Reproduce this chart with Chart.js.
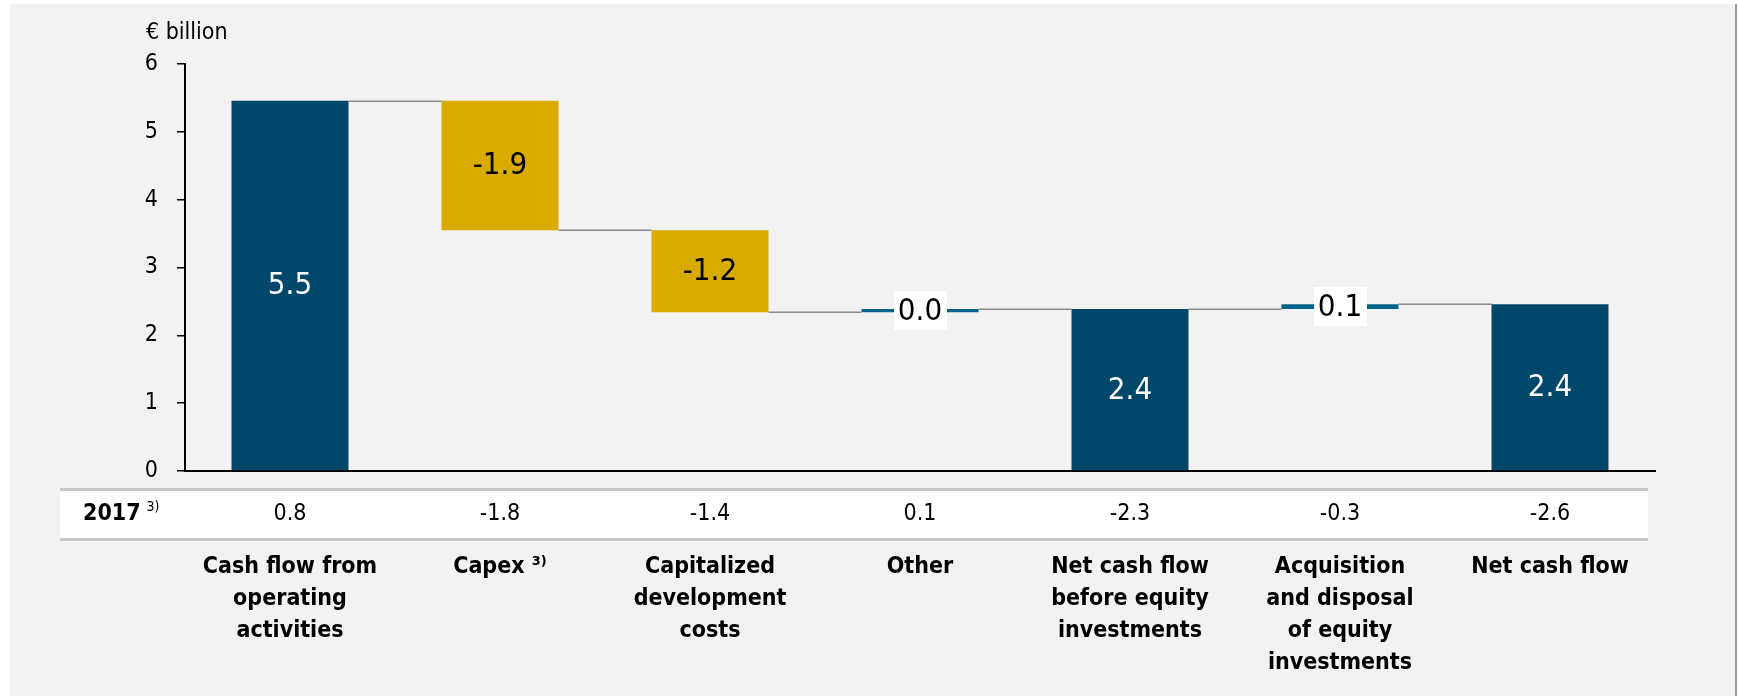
<!DOCTYPE html>
<html>
<head>
<meta charset="utf-8">
<script src="https://cdn.jsdelivr.net/npm/chart.js@4/dist/chart.umd.min.js"></script>
<style>
  html, body { margin: 0; padding: 0; background: #fff; overflow: hidden; }
  #wrap { position: relative; width: 1738px; height: 696px; }
</style>
</head>
<body>
<div id="wrap"><canvas id="cashChart"></canvas></div>
<script>
/* Dados (€ bilhões) */
const categories = [
  ['Cash flow from', 'operating', 'activities'],
  ['Capex \u00B3\u207E'],
  ['Capitalized', 'development', 'costs'],
  ['Other'],
  ['Net cash flow', 'before equity', 'investments'],
  ['Acquisition', 'and disposal', 'of equity', 'investments'],
  ['Net cash flow'],
];
const barStart = [0, 5.46, 3.55, 2.34, 0, 2.39, 0];     // nível antes de cada passo
const barEnd = [5.46, 3.55, 2.34, 2.39, 2.39, 2.46, 2.46]; // nível depois de cada passo
const valueLabels = ['5.5', '-1.9', '-1.2', '0.0', '2.4', '0.1', '2.4'];
const prevYearLabel = '2017';
const prevYearValues = ['0.8', '-1.8', '-1.4', '0.1', '-2.3', '-0.3', '-2.6'];
const yTicks = [0, 1, 2, 3, 4, 5, 6];
const unitLabel = '\u20AC billion';

const FONT = '"DejaVu Sans Condensed", "DejaVu Sans", sans-serif';
const DARK = '#00476a';
const GOLD = '#d9aa00';
const SMALL = '#00638a';

// tipo de barra derivado dos dados: total (parte do zero), pequena ou queda
const kindOf = i => {
  if (barStart[i] === 0) return 'total';
  if (Math.abs(barEnd[i] - barStart[i]) < 0.1) return 'small';
  return 'step';
};
const barColors = barStart.map((_, i) => {
  const k = kindOf(i);
  return k === 'total' ? DARK : k === 'small' ? SMALL : GOLD;
});

/* Fundo cinza do painel */
const panelPlugin = {
  id: 'panel',
  beforeDraw(chart) {
    const { ctx, width, height } = chart;
    ctx.save();
    ctx.fillStyle = '#ffffff';
    ctx.fillRect(0, 0, width, height);
    ctx.fillStyle = '#f2f2f2';
    ctx.fillRect(10, 4, 1726, height - 4);
    ctx.fillStyle = '#9a9a9a';
    ctx.fillRect(1735, 4, 2, height - 4);
    ctx.restore();
  },
};

/* Linhas de ligação entre os degraus da cascata */
const connectorPlugin = {
  id: 'connectors',
  beforeDatasetsDraw(chart) {
    const { ctx, scales } = chart;
    const bars = chart.getDatasetMeta(0).data;
    ctx.save();
    ctx.strokeStyle = '#8a8a8a';
    ctx.lineWidth = 1.5;
    for (let i = 0; i < bars.length - 1; i++) {
      const y = Math.round(scales.y.getPixelForValue(barEnd[i])) + 0.25;
      ctx.beginPath();
      ctx.moveTo(bars[i].x + bars[i].width / 2, y);
      ctx.lineTo(bars[i + 1].x - bars[i + 1].width / 2, y);
      ctx.stroke();
    }
    ctx.restore();
  },
};

/* Rótulos de valor, linha da tabela 2017 e unidade */
const labelPlugin = {
  id: 'labels',
  afterDatasetsDraw(chart) {
    const { ctx, chartArea } = chart;
    const bars = chart.getDatasetMeta(0).data;
    ctx.save();
    ctx.textAlign = 'center';
    ctx.textBaseline = 'middle';
    ctx.font = '31px ' + FONT;
    bars.forEach((b, i) => {
      const k = kindOf(i);
      const cy = (b.y + b.base) / 2;
      if (k === 'small') {
        ctx.fillStyle = '#ffffff';
        ctx.fillRect(b.x - 26, cy - 19.5, 53, 39);
        ctx.fillStyle = '#000000';
      } else {
        ctx.fillStyle = k === 'total' ? '#ffffff' : '#000000';
      }
      ctx.fillText(valueLabels[i], b.x, cy + 1);
    });

    // faixa branca da tabela do ano anterior
    const top = chartArea.bottom + 18;
    const bottom = top + 51;
    ctx.fillStyle = '#ffffff';
    ctx.fillRect(60, top, 1588, bottom - top);
    ctx.fillStyle = '#c6c6c6';
    ctx.fillRect(60, top - 1, 1588, 3);
    ctx.fillRect(60, bottom - 2, 1588, 3);

    const rowY = (top + bottom) / 2;
    ctx.fillStyle = '#000000';
    ctx.font = 'bold 23px ' + FONT;
    ctx.textAlign = 'left';
    ctx.fillText(prevYearLabel, 83, rowY);
    const w = ctx.measureText(prevYearLabel).width;
    ctx.font = '14px ' + FONT;
    ctx.fillText('3)', 83 + w + 6, rowY - 7);

    ctx.font = '23px ' + FONT;
    ctx.textAlign = 'center';
    bars.forEach((b, i) => ctx.fillText(prevYearValues[i], b.x, rowY));

    // unidade acima do eixo Y
    ctx.font = '23px ' + FONT;
    ctx.textAlign = 'left';
    ctx.fillText(unitLabel, 146, 33);
    ctx.restore();
  },
};

new Chart(document.getElementById('cashChart').getContext('2d'), {
  type: 'bar',
  plugins: [panelPlugin, connectorPlugin, labelPlugin],
  data: {
    labels: categories,
    datasets: [{
      data: barStart.map((s, i) => [s, barEnd[i]]),
      backgroundColor: barColors,
      borderWidth: 0,
      categoryPercentage: 1,
      barPercentage: 0.557,
    }],
  },
  options: {
    responsive: true,
    maintainAspectRatio: false,
    animation: false,
    layout: { padding: { top: 64, right: 83, left: 0, bottom: 0 } },
    scales: {
      x: {
        grid: { display: true, drawOnChartArea: false, drawTicks: false },
        border: { color: '#000000', width: 2 },
        ticks: {
          color: '#000000',
          padding: 80,
          autoSkip: false,
          maxRotation: 0,
          font: { family: FONT, size: 23, weight: 'bold', lineHeight: 32 / 23 },
        },
        afterFit: s => { s.height = 225; },
      },
      y: {
        min: yTicks[0],
        max: yTicks[yTicks.length - 1],
        afterBuildTicks: s => { s.ticks = yTicks.map(v => ({ value: v })); },
        grid: { display: true, drawOnChartArea: false, drawTicks: true, tickLength: 8, color: '#000000', lineWidth: 1.5 },
        border: { color: '#000000', width: 2 },
        ticks: { color: '#000000', padding: 19, font: { family: FONT, size: 23 } },
        afterFit: s => { s.width = 185; },
      },
    },
    plugins: {
      legend: { display: false },
      tooltip: { enabled: false },
    },
  },
});
</script>
</body>
</html>
